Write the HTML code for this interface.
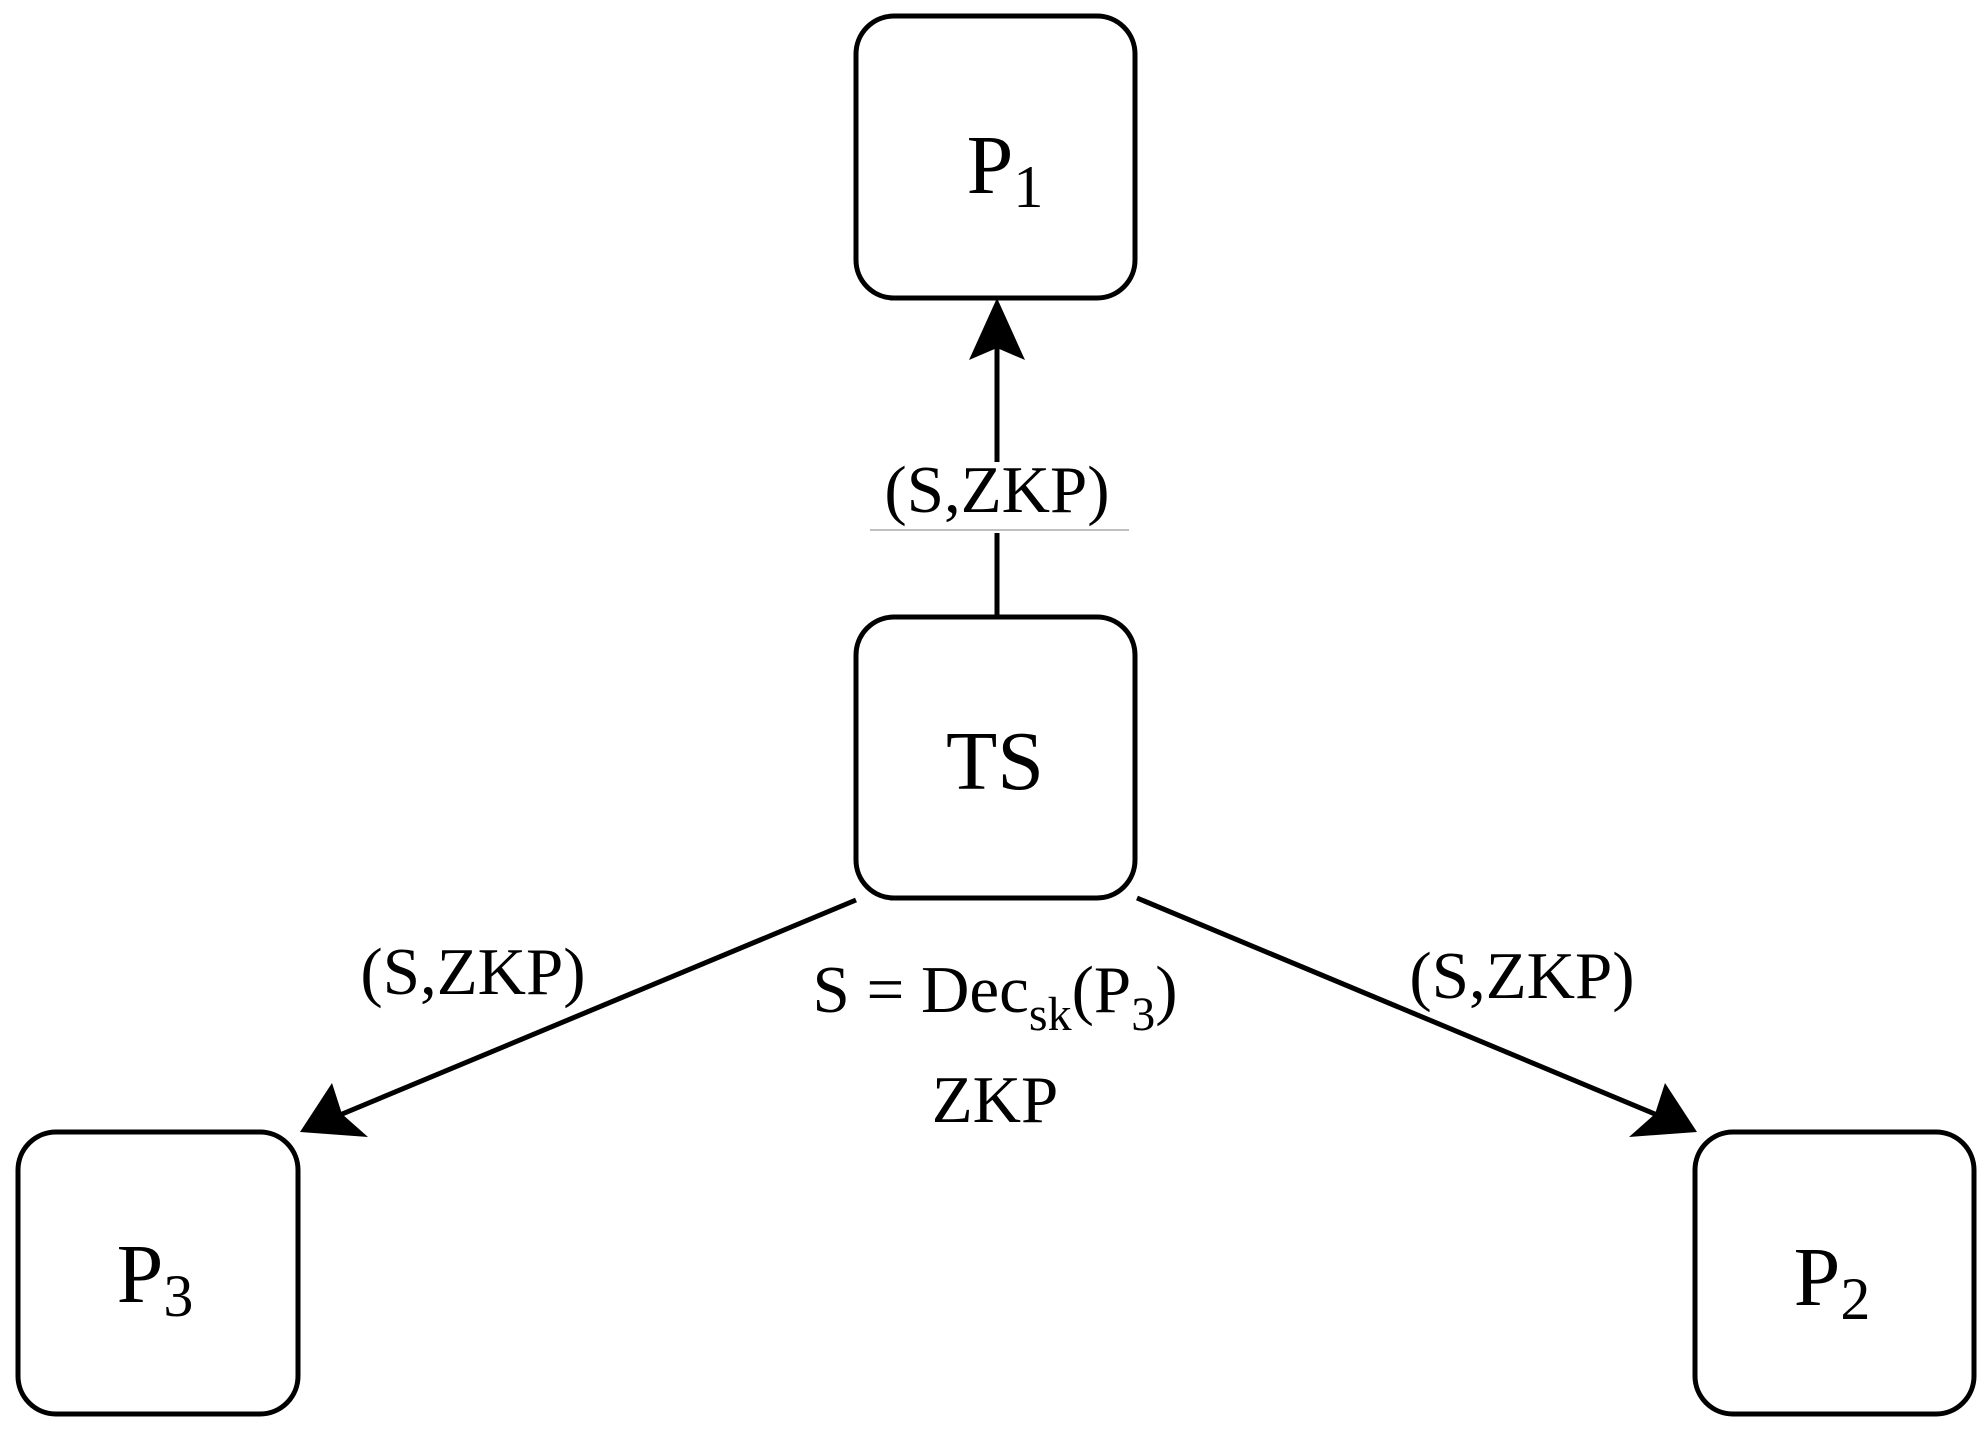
<!DOCTYPE html>
<html><head><meta charset="utf-8"><style>html,body{margin:0;padding:0;background:#fff}</style></head>
<body>
<svg width="1988" height="1431" viewBox="0 0 1988 1431" xmlns="http://www.w3.org/2000/svg" font-family="Liberation Serif, serif">
<rect width="1988" height="1431" fill="#fff"/>
<g fill="none" stroke="#000" stroke-width="5">
<rect x="856" y="16" width="279" height="282" rx="38"/>
<rect x="856" y="617" width="279" height="281" rx="38"/>
<rect x="18" y="1132" width="280" height="282" rx="38"/>
<rect x="1695" y="1132" width="279" height="282" rx="38"/>
<line x1="997" y1="617" x2="997" y2="533"/>
<line x1="997" y1="462" x2="997" y2="345"/>
<line x1="856" y1="900" x2="335" y2="1117"/>
<line x1="1137" y1="898" x2="1662" y2="1117"/>
</g>
<line x1="870" y1="530" x2="1129" y2="530" stroke="#aaa" stroke-width="1.5"/>
<polygon points="997,298 969,360 997,348 1025,360" fill="#000"/>
<polygon points="300,1132 368,1137 342,1114 332,1083" fill="#000"/>
<polygon points="1697,1132 1629,1137 1655,1114 1665,1083" fill="#000"/>
<g fill="#000" text-anchor="middle">
<text x="997" y="512" font-size="67">(S,ZKP)</text>
<text x="473" y="994" font-size="67">(S,ZKP)</text>
<text x="1522" y="998" font-size="67">(S,ZKP)</text>
<text x="995" y="1012" font-size="67">S = Dec<tspan font-size="48" dy="18">sk</tspan><tspan dy="-18">(P</tspan><tspan font-size="48" dy="18">3</tspan><tspan dy="-18">)</tspan></text>
<text x="995" y="1122" font-size="67">ZKP</text>
<text x="995" y="789" font-size="84">TS</text>
<text x="1005" y="193" font-size="84">P<tspan font-size="60" dy="14">1</tspan></text>
<text x="155" y="1302" font-size="84">P<tspan font-size="60" dy="14">3</tspan></text>
<text x="1832" y="1305" font-size="84">P<tspan font-size="60" dy="14">2</tspan></text>
</g>
</svg>
</body></html>
